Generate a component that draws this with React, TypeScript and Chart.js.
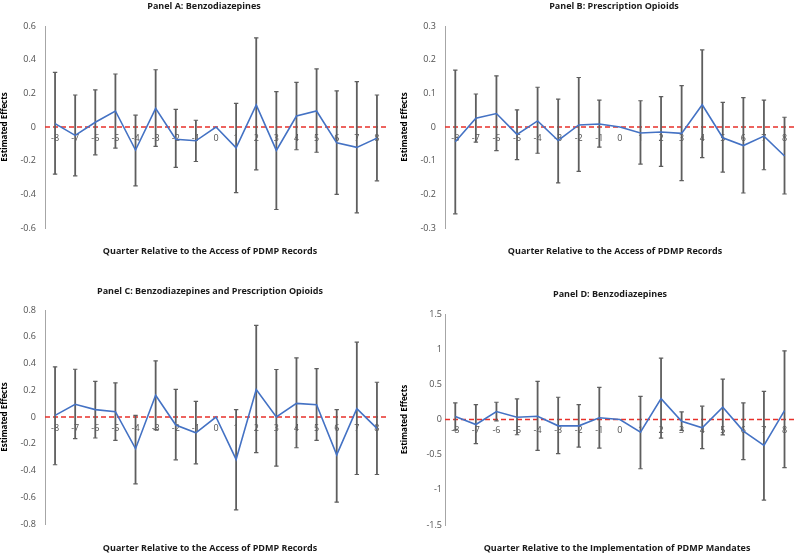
import React, { useEffect, useRef } from 'react';
import { Chart, registerables } from 'chart.js';

Chart.register(...registerables);
Chart.defaults.font.family = '"Open Sans", sans-serif';

// ---------- data ----------
const quarters = ['-8', '-7', '-6', '-5', '-4', '-3', '-2', '-1', '0', '1', '2', '3', '4', '5', '6', '7', '8'];

const aEst = [0.02, -0.05, 0.028, 0.095, -0.137, 0.111, -0.073, -0.082, 0, -0.124, 0.131, -0.139, 0.065, 0.095, -0.094, -0.121, -0.066];
const aUpper = [0.325, 0.19, 0.22, 0.315, 0.07, 0.34, 0.105, 0.04, null, 0.14, 0.53, 0.21, 0.265, 0.345, 0.215, 0.27, 0.19];
const aLower = [-0.28, -0.29, -0.165, -0.125, -0.35, -0.115, -0.24, -0.205, null, -0.39, -0.255, -0.49, -0.135, -0.15, -0.4, -0.51, -0.32];

const bEst = [-0.044, 0.026, 0.04, -0.022, 0.018, -0.04, 0.006, 0.009, 0, -0.018, -0.015, -0.019, 0.066, -0.032, -0.055, -0.027, -0.086];
const bUpper = [0.169, 0.098, 0.152, 0.051, 0.118, 0.083, 0.147, 0.08, null, 0.078, 0.09, 0.123, 0.229, 0.073, 0.087, 0.08, 0.029];
const bLower = [-0.258, -0.045, -0.07, -0.097, -0.078, -0.166, -0.132, -0.06, null, -0.11, -0.117, -0.159, -0.091, -0.134, -0.196, -0.127, -0.199];

const cEst = [0.012, 0.095, 0.055, 0.04, -0.237, 0.162, -0.06, -0.118, 0, -0.317, 0.205, 0, 0.102, 0.092, -0.283, 0.063, -0.085];
const cUpper = [0.375, 0.357, 0.267, 0.255, 0.012, 0.42, 0.207, 0.117, null, 0.055, 0.685, 0.355, 0.442, 0.362, 0.055, 0.56, 0.26];
const cLower = [-0.357, -0.162, -0.157, -0.175, -0.5, -0.095, -0.32, -0.35, null, -0.695, -0.267, -0.367, -0.23, -0.175, -0.637, -0.43, -0.43];

const dEst = [0.042, -0.071, 0.113, 0.033, 0.047, -0.09, -0.09, 0.024, 0, -0.18, 0.297, -0.024, -0.118, 0.175, -0.165, -0.368, 0.127];
const dUpper = [0.236, 0.212, 0.245, 0.292, 0.542, 0.316, 0.212, 0.458, null, 0.33, 0.873, 0.108, 0.189, 0.575, 0.236, 0.4, 0.976];
const dLower = [-0.15, -0.344, -0.02, -0.217, -0.44, -0.486, -0.392, -0.406, null, -0.7, -0.264, -0.156, -0.415, -0.22, -0.57, -1.146, -0.684];

const yTitle = 'Estimated Effects';
const xTitleAccess = 'Quarter Relative to the Access of PDMP Records';
const xTitleMandate = 'Quarter Relative to the Implementation of PDMP Mandates';

// ---------- panel layout ----------
type PanelCfg = {
  title: string; xTitle: string;
  est: (number | null)[]; upper: (number | null)[]; lower: (number | null)[];
  yMin: number; yMax: number; yStep: number;
  left: number; top: number; width: number; height: number;
  pad: { top: number; right: number; bottom: number };
  yTickPad: number;
  titleAt: [number, number]; xTitleAt: [number, number];
};

const panels: PanelCfg[] = [
  {
    title: 'Panel A: Benzodiazepines', xTitle: xTitleAccess,
    est: aEst, upper: aUpper, lower: aLower, yMin: -0.6, yMax: 0.6, yStep: 0.2,
    left: 0, top: 0, width: 400, height: 277,
    pad: { top: 26, right: 13, bottom: 49 }, yTickPad: 9,
    titleAt: [204, 5], xTitleAt: [210, 250],
  },
  {
    title: 'Panel B: Prescription Opioids', xTitle: xTitleAccess,
    est: bEst, upper: bUpper, lower: bLower, yMin: -0.3, yMax: 0.3, yStep: 0.1,
    left: 400, top: 0, width: 400, height: 277,
    pad: { top: 26, right: 2, bottom: 49 }, yTickPad: 9,
    titleAt: [214, 5], xTitleAt: [215, 250],
  },
  {
    title: 'Panel C: Benzodiazepines and Prescription Opioids', xTitle: xTitleAccess,
    est: cEst, upper: cUpper, lower: cLower, yMin: -0.8, yMax: 0.8, yStep: 0.2,
    left: 0, top: 277, width: 400, height: 277,
    pad: { top: 33, right: 13, bottom: 30 }, yTickPad: 9,
    titleAt: [210, 13], xTitleAt: [210, 270],
  },
  {
    title: 'Panel D: Benzodiazepines', xTitle: xTitleMandate,
    est: dEst, upper: dUpper, lower: dLower, yMin: -1.5, yMax: 1.5, yStep: 0.5,
    left: 400, top: 277, width: 400, height: 277,
    pad: { top: 37, right: 2, bottom: 29 }, yTickPad: 3,
    titleAt: [210, 16], xTitleAt: [217, 270],
  },
];

const BLUE = '#4472C4';
const BAR = '#5E5E5E';
const TICK = '#505050';

const zeroLine = {
  id: 'zeroLine',
  beforeDatasetsDraw(chart: any) {
    const { ctx, chartArea, scales } = chart;
    const y = scales.y.getPixelForValue(0);
    ctx.save();
    ctx.strokeStyle = '#E8302A';
    ctx.lineWidth = 1.6;
    ctx.setLineDash([5, 3]);
    ctx.beginPath();
    ctx.moveTo(chartArea.left, y);
    ctx.lineTo(chartArea.right, y);
    ctx.stroke();
    ctx.restore();
  },
};

function Panel({ cfg }: { cfg: PanelCfg }) {
  const ref = useRef<HTMLCanvasElement | null>(null);
  useEffect(() => {
    if (!ref.current) return;
    const ranges = cfg.lower.map((l, i) => (l === null || cfg.upper[i] === null ? null : [l, cfg.upper[i]]));
    const chart = new Chart(ref.current, {
      type: 'bar',
      data: {
        labels: quarters,
        datasets: [
          {
            type: 'line',
            data: cfg.est as any,
            borderColor: BLUE,
            borderWidth: 1.6,
            pointRadius: 0,
            tension: 0,
            fill: false,
            order: 0,
          } as any,
          {
            type: 'line',
            data: cfg.upper as any,
            showLine: false,
            pointStyle: 'line',
            pointRadius: 2.2,
            pointBorderWidth: 1.2,
            pointBorderColor: BAR,
            order: 1,
          } as any,
          {
            type: 'line',
            data: cfg.lower as any,
            showLine: false,
            pointStyle: 'line',
            pointRadius: 2.2,
            pointBorderWidth: 1.2,
            pointBorderColor: BAR,
            order: 1,
          } as any,
          {
            type: 'bar',
            data: ranges as any,
            backgroundColor: BAR,
            barThickness: 1.8,
            inflateAmount: 0,
            borderWidth: 0,
            order: 2,
          } as any,
        ],
      },
      options: {
        responsive: false,
        animation: false,
        events: [],
        layout: { padding: { left: 0, top: cfg.pad.top, right: cfg.pad.right, bottom: cfg.pad.bottom } },
        plugins: { legend: { display: false }, tooltip: { enabled: false }, title: { display: false } },
        scales: {
          x: {
            type: 'category',
            offset: true,
            position: { y: 0 } as any,
            grid: { display: false, drawTicks: false },
            border: { display: false },
            ticks: {
              autoSkip: false,
              maxRotation: 0,
              padding: 6,
              color: TICK,
              font: { size: 9 },
            },
          },
          y: {
            type: 'linear',
            min: cfg.yMin,
            max: cfg.yMax,
            grid: { display: false, drawTicks: false },
            border: { display: true, color: '#A6A6A6', width: 1 },
            ticks: {
              stepSize: cfg.yStep,
              padding: cfg.yTickPad,
              color: TICK,
              font: { size: 9 },
              callback: (v: any) => String(Math.round(Number(v) * 100) / 100),
            },
            title: {
              display: true,
              text: yTitle,
              color: '#000',
              font: { size: 8, weight: 'bold' },
              padding: { top: 0, bottom: 0 },
            },
            afterFit: (scale: any) => { scale.width = 45; },
          },
        },
      },
      plugins: [zeroLine],
    } as any);
    return () => chart.destroy();
  }, [cfg]);

  const textStyle: React.CSSProperties = {
    position: 'absolute',
    transform: 'translateX(-50%)',
    whiteSpace: 'nowrap',
    fontFamily: '"Open Sans", sans-serif',
    fontWeight: 700,
    fontSize: 9,
    lineHeight: '11px',
    color: '#1a1a1a',
  };

  return (
    <div style={{ position: 'absolute', left: cfg.left, top: cfg.top, width: cfg.width, height: cfg.height }}>
      <canvas ref={ref} width={cfg.width} height={cfg.height} style={{ width: cfg.width, height: cfg.height, display: 'block' }} />
      <div style={{ ...textStyle, left: cfg.titleAt[0], top: cfg.titleAt[1] - 5.5 }}>{cfg.title}</div>
      <div style={{ ...textStyle, left: cfg.xTitleAt[0], top: cfg.xTitleAt[1] - 5.5 }}>{cfg.xTitle}</div>
    </div>
  );
}

export default function App() {
  return (
    <div style={{ position: 'absolute', left: 0, top: 0, width: 800, height: 554, background: '#fff', overflow: 'hidden' }}>
      {panels.map((p) => (
        <Panel key={p.title + p.left + p.top} cfg={p} />
      ))}
    </div>
  );
}
